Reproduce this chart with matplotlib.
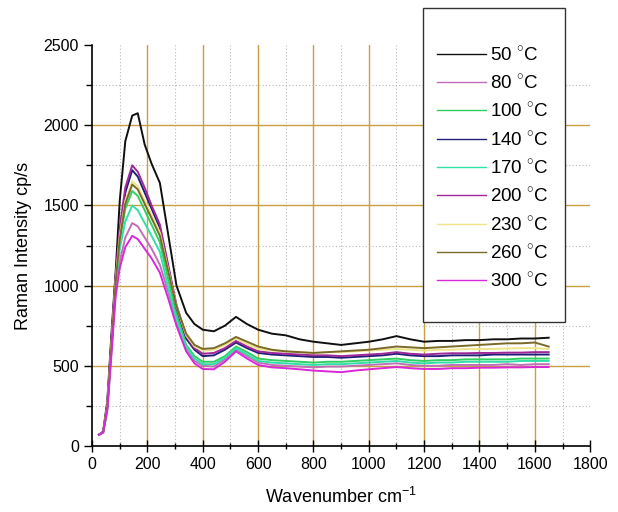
import matplotlib.pyplot as plt
from matplotlib.patches import Rectangle

plt.rcParams['font.family'] = ['Liberation Sans', 'DejaVu Sans']
plt.rcParams['mathtext.fontset'] = 'custom'
plt.rcParams['mathtext.rm'] = 'Liberation Sans'

# wavenumber (cm-1) sample points
wn = [25, 40, 55, 70, 85, 100, 120, 145, 165, 190, 215, 245, 275, 305, 340, 370,
      400, 440, 480, 520, 560, 600, 650, 700, 750, 800, 850, 900, 950, 1000, 1050,
      1100, 1150, 1200, 1250, 1300, 1350, 1400, 1450, 1500, 1550, 1600, 1650]

labels = ['50', '80', '100', '140', '170', '200', '230', '260', '300']
colors = ['#101010', '#c070b8', '#30d060', '#202078', '#30e0a8', '#a02898',
          '#eee48a', '#7a6a2a', '#d828d8']

t50 = [70, 90, 280, 700, 1080, 1530, 1900, 2060, 2075, 1880, 1760, 1640, 1320, 1000, 830, 760,
       725, 715, 750, 805, 760, 725, 700, 690, 665, 650, 640, 630, 640, 650, 665,
       685, 665, 650, 655, 655, 660, 660, 665, 665, 670, 670, 675]
t80 = [70, 85, 230, 600, 960, 1150, 1300, 1390, 1370, 1300, 1230, 1130, 960, 780, 610, 530,
       500, 495, 540, 600, 560, 520, 505, 500, 495, 490, 495, 495, 500, 505, 510,
       515, 505, 500, 500, 505, 505, 505, 505, 510, 505, 510, 510]
t100 = [70, 85, 240, 620, 1010, 1280, 1480, 1590, 1560, 1470, 1380, 1270, 1040, 820, 630, 560,
        525, 525, 560, 620, 585, 545, 535, 530, 525, 520, 525, 525, 530, 535, 540,
        545, 535, 530, 535, 535, 540, 540, 540, 540, 545, 545, 545]
t140 = [70, 85, 250, 650, 1050, 1340, 1580, 1720, 1680, 1580, 1480, 1360, 1110, 860, 670, 600,
        560, 565, 600, 645, 610, 580, 570, 565, 560, 555, 555, 550, 555, 560, 565,
        575, 565, 560, 560, 565, 565, 565, 570, 570, 570, 570, 570]
t170 = [70, 85, 230, 600, 980, 1230, 1400, 1500, 1470, 1390, 1310, 1210, 990, 790, 620, 545,
        510, 510, 550, 610, 570, 530, 520, 515, 510, 505, 510, 510, 515, 520, 525,
        530, 520, 515, 520, 520, 525, 525, 525, 525, 530, 530, 530]
t200 = [70, 85, 260, 660, 1060, 1360, 1610, 1750, 1710, 1610, 1500, 1380, 1130, 880, 685, 610,
        575, 580, 610, 655, 620, 590, 580, 575, 570, 565, 565, 560, 565, 570, 575,
        585, 575, 570, 575, 578, 578, 580, 580, 582, 582, 585, 585]
t230 = [70, 85, 250, 640, 1030, 1310, 1530, 1650, 1620, 1530, 1440, 1330, 1100, 870, 690, 620,
        595, 600, 630, 670, 635, 605, 595, 590, 585, 580, 585, 585, 590, 595, 600,
        605, 600, 595, 600, 600, 605, 605, 605, 608, 610, 610, 605]
t260 = [70, 85, 245, 630, 1020, 1290, 1510, 1630, 1600, 1510, 1420, 1310, 1090, 870, 700, 630,
        605, 610, 640, 680, 650, 620, 600, 590, 585, 580, 585, 590, 595, 600, 610,
        620, 615, 610, 615, 620, 625, 630, 635, 640, 640, 645, 620]
t300 = [70, 85, 220, 570, 930, 1110, 1240, 1310, 1290, 1230, 1170, 1080, 920, 750, 590, 515,
        480, 478, 525, 590, 545, 505, 490, 485, 478, 470, 465, 460, 470, 478, 485,
        492, 485, 480, 480, 485, 485, 488, 488, 490, 490, 492, 492]
spectra = [t50, t80, t100, t140, t170, t200, t230, t260, t300]

xticks = [0, 200, 400, 600, 800, 1000, 1200, 1400, 1600, 1800]
yticks = [0, 500, 1000, 1500, 2000, 2500]

fig = plt.figure(figsize=(6.18, 5.12), dpi=100)
ax = fig.add_axes([0.149, 0.129, 0.806, 0.783])

# grid: gold solid at majors, grey dotted at minors
for x in range(100, 1800, 100):
    if x % 200:
        ax.axvline(x, color='#b8b8b8', lw=0.8, ls=(0, (1, 2)), zorder=0)
    else:
        ax.axvline(x, color='#c8a040', lw=1.0, zorder=0)
for y in [250, 750, 1250, 1750, 2250]:
    ax.axhline(y, color='#b8b8b8', lw=0.8, ls=(0, (1, 2)), zorder=0)
for y in yticks[1:-1]:
    ax.axhline(y, color='#c8a040', lw=1.0, zorder=0)

lines = []
for lab, col, sp in zip(labels, colors, spectra):
    ln, = ax.plot(wn, sp, color=col, lw=1.4)
    lines.append(ln)

ax.set_xlim(0, 1800)
ax.set_ylim(0, 2500)
ax.set_xticks(xticks)
ax.set_yticks(yticks)
ax.set_xticks(range(100, 1800, 200), minor=True)
ax.set_yticks([250, 750, 1250, 1750, 2250], minor=True)
ax.tick_params(axis='x', which='major', direction='inout', length=9, width=1, labelsize=11.5)
ax.tick_params(axis='x', which='minor', direction='inout', length=5, width=1)
ax.tick_params(axis='y', which='major', direction='out', length=6, width=1, labelsize=11.5)
ax.tick_params(axis='y', which='minor', direction='out', length=4, width=1)
ax.spines['top'].set_visible(False)
ax.spines['right'].set_visible(False)
ax.spines['left'].set_linewidth(1.2)
ax.spines['bottom'].set_linewidth(1.2)

ax.set_xlabel('Wavenumber cm$^{-1}$', fontsize=13, labelpad=11)
ax.set_ylabel('Raman Intensity cp/s', fontsize=13, labelpad=8)

# legend box
box = Rectangle((0.684, 0.371), 0.230, 0.613, transform=fig.transFigure,
                facecolor='white', edgecolor='#333333', lw=1.0, zorder=5)
fig.patches.append(box)
leg = fig.legend(lines, [l + ' $^{\\circ}$C' for l in labels],
                 loc='upper left', bbox_to_anchor=(0.692, 0.93), frameon=False,
                 fontsize=13.5, handlelength=2.6, handletextpad=0.2,
                 labelspacing=0.5, borderpad=0)
for h in leg.legend_handles:
    h.set_linewidth(1.0)
leg.set_zorder(6)

fig.savefig('out.png', dpi=100)
